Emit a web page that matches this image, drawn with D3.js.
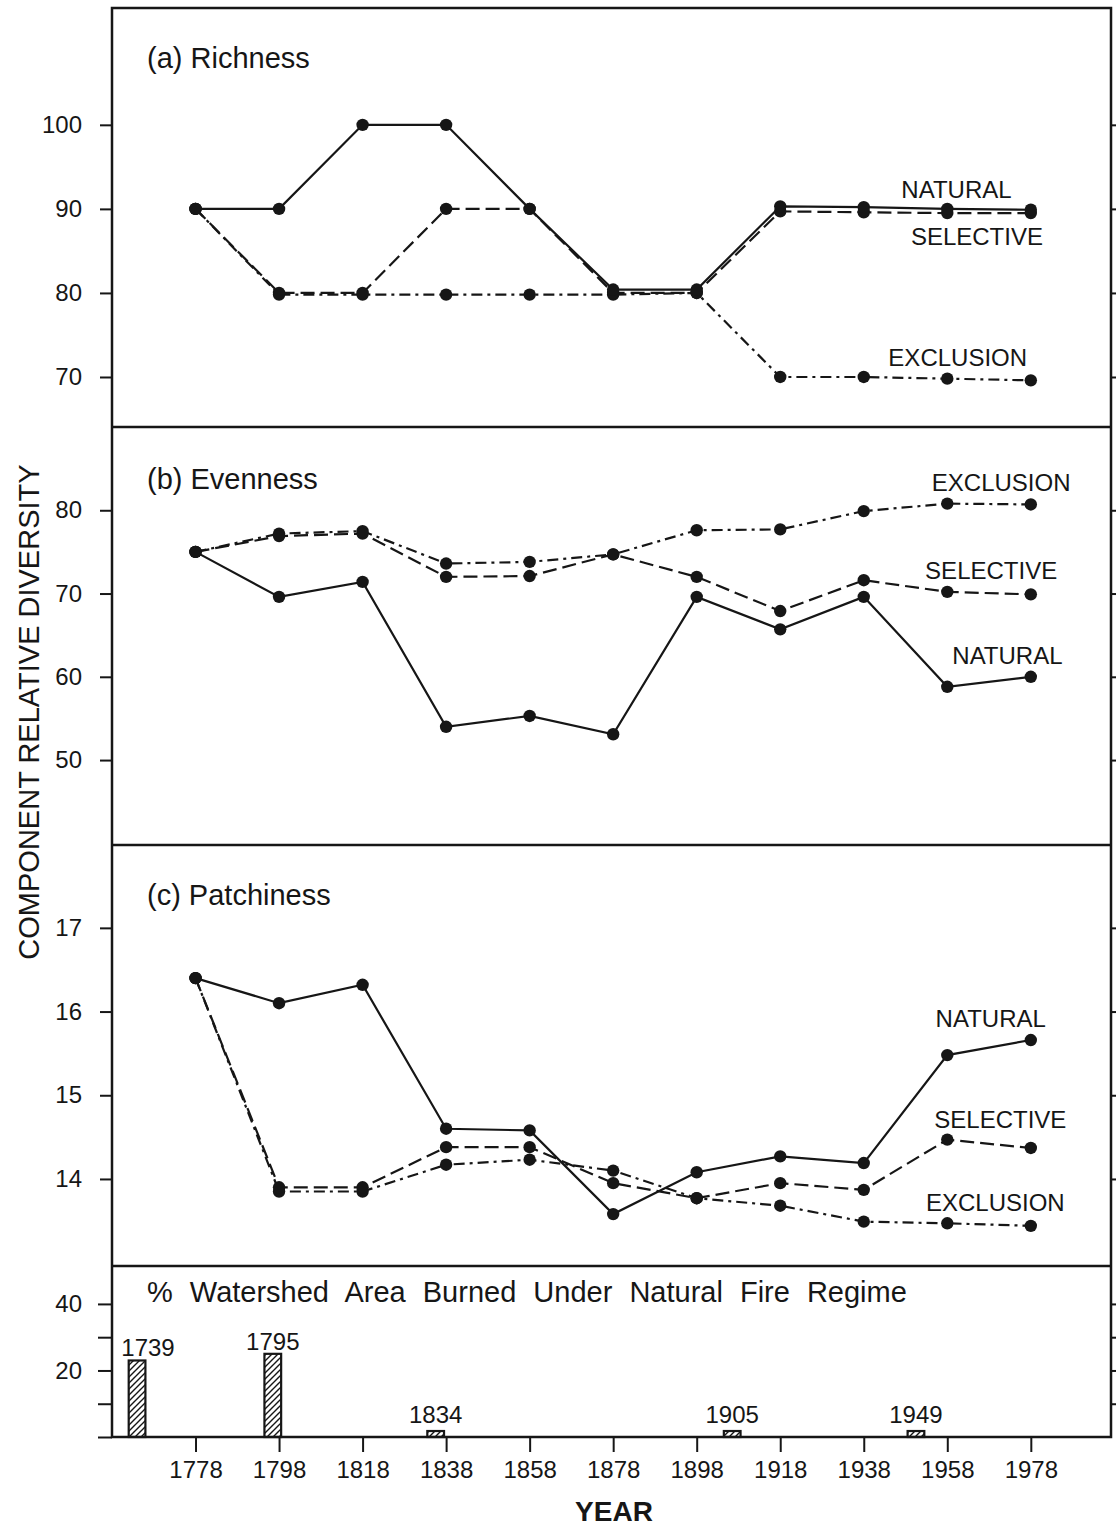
<!DOCTYPE html>
<html>
<head>
<meta charset="utf-8">
<script src="https://cdn.jsdelivr.net/npm/d3@7"></script>
<style>
  body { margin: 0; background: #fff; }
  text { font-family: "Liberation Sans", Arial, sans-serif; fill: #161616; }
</style>
</head>
<body>
<svg id="chart" width="1116" height="1528"></svg>
<script>
// sample years shared by the three component panels
var years = [1778, 1798, 1818, 1838, 1858, 1878, 1898, 1918, 1938, 1958, 1978];

var richNatural   = [90, 90, 100, 100, 90, 80.4, 80.4, 90.3, 90.2, 90.0, 89.9];
var richSelective = [90, 80, 80, 90, 90, 80, 80, 89.7, 89.6, 89.5, 89.5];
var richExclusion = [90, 79.8, 79.8, 79.8, 79.8, 79.8, 80, 70, 70, 69.8, 69.6];

var evenNatural   = [75, 69.6, 71.4, 54.0, 55.3, 53.1, 69.6, 65.7, 69.6, 58.8, 60.0];
var evenSelective = [75, 76.9, 77.2, 72.0, 72.1, 74.7, 72.0, 67.9, 71.6, 70.2, 69.9];
var evenExclusion = [75, 77.2, 77.5, 73.6, 73.8, 74.7, 77.6, 77.7, 79.9, 80.8, 80.7];

var patchNatural   = [16.4, 16.1, 16.32, 14.6, 14.58, 13.58, 14.08, 14.27, 14.19, 15.48, 15.66];
var patchSelective = [16.4, 13.9, 13.9, 14.38, 14.38, 13.95, 13.77, 13.95, 13.87, 14.47, 14.37];
var patchExclusion = [16.4, 13.85, 13.85, 14.17, 14.23, 14.1, 13.77, 13.68, 13.49, 13.47, 13.44];

// fires under the natural regime (% of watershed burned)
var fireYears  = [1739, 1795, 1834, 1905, 1949];
var fireBurned = [23, 25, 1.8, 1.8, 1.8];

var richTicks  = [70, 80, 90, 100];
var evenTicks  = [50, 60, 70, 80];
var patchTicks = [14, 15, 16, 17];
var burnTicks  = [0, 10, 20, 30, 40];
var burnLabels = [20, 40];

var left = 112, right = 1111;
var svg = d3.select('#chart');

var x = d3.scaleLinear().domain([1758, 1997.2]).range([left, right]);

var dashes = {natural: null, selective: '14,6', exclusion: '11,5,3,5'};

var panels = [
  {title: '(a) Richness', top: 8, bottom: 427, domain: [64.05, 113.9], ticks: richTicks, titleY: 68,
   series: {natural: richNatural, selective: richSelective, exclusion: richExclusion},
   labels: [['NATURAL', 1960.2, 91.3], ['SELECTIVE', 1965.1, 85.7], ['EXCLUSION', 1960.5, 71.3]]},
  {title: '(b) Evenness', top: 427, bottom: 845, domain: [39.8, 90], ticks: evenTicks, titleY: 489,
   series: {natural: evenNatural, selective: evenSelective, exclusion: evenExclusion},
   labels: [['EXCLUSION', 1970.9, 82.3], ['SELECTIVE', 1968.5, 71.8], ['NATURAL', 1972.4, 61.5]]},
  {title: '(c) Patchiness', top: 845, bottom: 1266, domain: [12.96, 17.99], ticks: patchTicks, titleY: 905,
   series: {natural: patchNatural, selective: patchSelective, exclusion: patchExclusion},
   labels: [['NATURAL', 1968.4, 15.82], ['SELECTIVE', 1970.7, 14.61], ['EXCLUSION', 1969.5, 13.62]]}
];

// hatch for the burned-area bars
svg.append('defs').append('pattern')
  .attr('id', 'hatch')
  .attr('patternUnits', 'userSpaceOnUse')
  .attr('width', 6).attr('height', 6)
  .append('path')
    .attr('d', 'M-1,1 l2,-2 M0,6 l6,-6 M5,7 l2,-2')
    .attr('stroke', '#161616')
    .attr('stroke-width', 1.4);

function styleAxis(g, fontSize) {
  g.select('.domain').remove();
  g.selectAll('line').attr('stroke', '#161616').attr('stroke-width', 2);
  g.selectAll('text').attr('font-size', fontSize).attr('fill', '#161616')
    .attr('font-family', '"Liberation Sans", Arial, sans-serif');
}

panels.forEach(function(p) {
  var y = d3.scaleLinear().domain(p.domain).range([p.bottom, p.top]);
  var g = svg.append('g').attr('class', 'panel');

  g.append('g').attr('transform', 'translate(' + left + ',0)')
    .call(d3.axisLeft(y).tickValues(p.ticks).tickSize(12).tickPadding(18).tickFormat(d3.format('d')))
    .call(styleAxis, 24);
  g.append('g').attr('transform', 'translate(' + right + ',0)')
    .call(d3.axisRight(y).tickValues(p.ticks).tickSize(8).tickFormat(''))
    .call(styleAxis, 24);

  var line = d3.line().x(function(d) { return x(d[0]); }).y(function(d) { return y(d[1]); });

  ['exclusion', 'selective', 'natural'].forEach(function(key) {
    var pts = years.map(function(yr, i) { return [yr, p.series[key][i]]; });
    g.append('path')
      .datum(pts)
      .attr('d', line)
      .attr('fill', 'none')
      .attr('stroke', '#161616')
      .attr('stroke-width', 2.2)
      .attr('stroke-dasharray', dashes[key]);
    g.selectAll('.dot-' + key)
      .data(pts)
      .enter().append('circle')
        .attr('class', 'dot-' + key)
        .attr('cx', function(d) { return x(d[0]); })
        .attr('cy', function(d) { return y(d[1]); })
        .attr('r', 6.2)
        .attr('fill', '#161616');
  });

  g.selectAll('.series-label')
    .data(p.labels)
    .enter().append('text')
      .attr('class', 'series-label')
      .attr('x', function(d) { return x(d[1]); })
      .attr('y', function(d) { return y(d[2]); })
      .attr('text-anchor', 'middle')
      .attr('font-size', 24)
      .text(function(d) { return d[0]; });

  g.append('text')
    .attr('x', 147).attr('y', p.titleY)
    .attr('font-size', 29)
    .text(p.title);
});

// bottom panel: burned area
var yb = d3.scaleLinear().domain([0, 51.4]).range([1437, 1266]);
var barW = x(1762) - x(1758);

svg.append('g').attr('transform', 'translate(' + left + ',0)')
  .call(d3.axisLeft(yb).tickValues(burnTicks).tickSize(14).tickPadding(16)
    .tickFormat(function(d) { return burnLabels.indexOf(d) >= 0 ? d : ''; }))
  .call(styleAxis, 24);
svg.append('g').attr('transform', 'translate(' + right + ',0)')
  .call(d3.axisRight(yb).tickValues(burnTicks.slice(1)).tickSize(8).tickFormat(''))
  .call(styleAxis, 24);

// the 1739 fire falls before the axis starts, so it is parked at the left margin
function fireX(yr) { return x(Math.max(yr + 1.5, x.domain()[0] + 6)); }

var fires = fireYears.map(function(yr, i) { return {year: yr, burned: fireBurned[i]}; });

svg.selectAll('.fire')
  .data(fires)
  .enter().append('rect')
    .attr('class', 'fire')
    .attr('x', function(d) { return fireX(d.year) - barW / 2; })
    .attr('y', function(d) { return yb(d.burned); })
    .attr('width', barW)
    .attr('height', function(d) { return yb(0) - yb(d.burned); })
    .attr('fill', 'url(#hatch)')
    .attr('stroke', '#161616')
    .attr('stroke-width', 2.2);

svg.selectAll('.fire-label')
  .data(fires)
  .enter().append('text')
    .attr('class', 'fire-label')
    .attr('x', function(d) { return Math.max(fireX(d.year), left + 36); })
    .attr('y', function(d) { return yb(d.burned) - (d.burned > 10 ? 4 : 8); })
    .attr('text-anchor', 'middle')
    .attr('font-size', 24)
    .text(function(d) { return d.year; });

svg.append('text')
  .attr('x', 147).attr('y', 1302)
  .attr('font-size', 29)
  .attr('word-spacing', 9)
  .text('% Watershed Area Burned Under Natural Fire Regime');

// frame and panel separators
svg.append('rect')
  .attr('x', left).attr('y', 8)
  .attr('width', right - left).attr('height', 1437 - 8)
  .attr('fill', 'none')
  .attr('stroke', '#161616')
  .attr('stroke-width', 2.5);

svg.selectAll('.sep')
  .data(panels)
  .enter().append('line')
    .attr('class', 'sep')
    .attr('x1', left).attr('x2', right)
    .attr('y1', function(d) { return d.bottom; })
    .attr('y2', function(d) { return d.bottom; })
    .attr('stroke', '#161616')
    .attr('stroke-width', 2.5);

// year axis
svg.append('g').attr('transform', 'translate(0,1437)')
  .call(d3.axisBottom(x).tickValues(years).tickSize(15).tickPadding(9).tickFormat(d3.format('d')))
  .call(styleAxis, 24);

svg.append('text')
  .attr('x', 614).attr('y', 1521)
  .attr('text-anchor', 'middle')
  .attr('font-size', 28)
  .attr('font-weight', 'bold')
  .text('YEAR');

svg.append('text')
  .attr('transform', 'translate(39,712) rotate(-90)')
  .attr('text-anchor', 'middle')
  .attr('font-size', 29)
  .text('COMPONENT RELATIVE DIVERSITY');
</script>
</body>
</html>
